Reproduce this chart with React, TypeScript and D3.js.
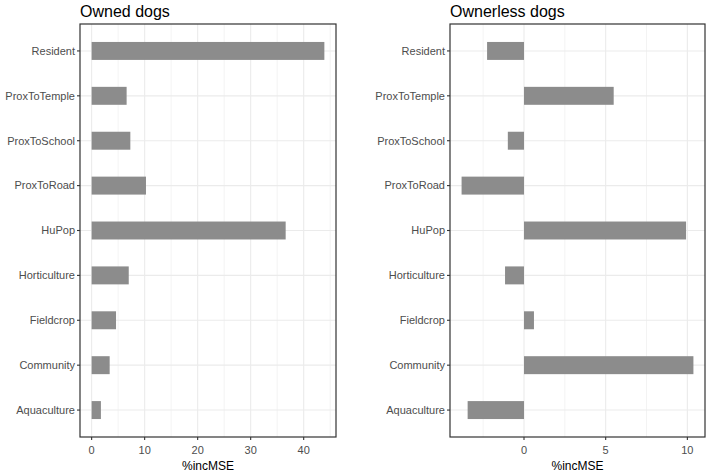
import { useEffect, useRef } from 'react';
import * as d3 from 'd3';

const categories = ['Resident', 'ProxToTemple', 'ProxToSchool', 'ProxToRoad', 'HuPop', 'Horticulture', 'Fieldcrop', 'Community', 'Aquaculture'];
const ownedValues = [43.9, 6.6, 7.3, 10.25, 36.6, 7.0, 4.6, 3.4, 1.75];
const ownerlessValues = [-2.26, 5.49, -0.99, -3.82, 9.92, -1.16, 0.61, 10.37, -3.45];
const ownedTicks = [0, 10, 20, 30, 40];
const ownerlessTicks = [0, 5, 10];
const titles = ['Owned dogs', 'Ownerless dogs'];
const xTitle = '%incMSE';

const width = 708;
const height = 474;
const font = '"Liberation Sans", Arial, sans-serif';

const App = () => {
    const svgRef = useRef(null);

    useEffect(() => {
        const svg = d3.select(svgRef.current);
        svg.selectAll('*').remove();

        const panels = [
            { left: 80, right: 336, values: ownedValues, ticks: ownedTicks, title: titles[0] },
            { left: 450, right: 705, values: ownerlessValues, ticks: ownerlessTicks, title: titles[1] },
        ];
        const top = 24;
        const bottom = 437;

        panels.forEach(p => {
            const min = Math.min(0, d3.min(p.values));
            const max = Math.max(0, d3.max(p.values));
            const pad = (max - min) * 0.05;
            const x = d3.scaleLinear().domain([min - pad, max + pad]).range([p.left, p.right]);

            // discrete axis with ggplot's 0.6 expansion
            const y = d3.scaleLinear().domain([0.4, categories.length + 0.6]).range([top, bottom]);
            const yPos = (i) => y(i + 1);
            const band = y(1) - y(0);

            const g = svg.append('g');

            // minor grid
            const majors = x.ticks(p.ticks.length > 3 ? 5 : 3);
            const step = p.ticks[1] - p.ticks[0];
            const minors = [];
            for (let v = p.ticks[0] - step / 2; v <= x.domain()[1]; v += step) {
                if (v >= x.domain()[0]) minors.push(v);
            }
            g.selectAll('.minor')
                .data(minors)
                .join('line')
                .attr('x1', d => x(d)).attr('x2', d => x(d))
                .attr('y1', top).attr('y2', bottom)
                .attr('stroke', '#ebebeb').attr('stroke-width', 0.6);

            g.selectAll('.major')
                .data(p.ticks)
                .join('line')
                .attr('x1', d => x(d)).attr('x2', d => x(d))
                .attr('y1', top).attr('y2', bottom)
                .attr('stroke', '#ebebeb').attr('stroke-width', 1.1);

            g.selectAll('.hgrid')
                .data(categories)
                .join('line')
                .attr('x1', p.left).attr('x2', p.right)
                .attr('y1', (d, i) => yPos(i)).attr('y2', (d, i) => yPos(i))
                .attr('stroke', '#ebebeb').attr('stroke-width', 1.1);

            // bars
            g.selectAll('.bar')
                .data(p.values)
                .join('rect')
                .attr('x', d => x(Math.min(0, d)))
                .attr('width', d => Math.abs(x(d) - x(0)))
                .attr('y', (d, i) => yPos(i) - band * 0.2)
                .attr('height', band * 0.4)
                .attr('fill', '#8c8c8c');

            // border
            g.append('rect')
                .attr('x', p.left).attr('y', top)
                .attr('width', p.right - p.left).attr('height', bottom - top)
                .attr('fill', 'none').attr('stroke', '#333333').attr('stroke-width', 1.2);

            // y axis ticks and labels
            categories.forEach((c, i) => {
                g.append('line')
                    .attr('x1', p.left - 3).attr('x2', p.left)
                    .attr('y1', yPos(i)).attr('y2', yPos(i))
                    .attr('stroke', '#333333').attr('stroke-width', 1.1);
                g.append('text')
                    .attr('x', p.left - 5)
                    .attr('y', yPos(i))
                    .attr('dy', '0.35em')
                    .attr('text-anchor', 'end')
                    .style('font-family', font)
                    .style('font-size', '11px')
                    .attr('fill', '#4d4d4d')
                    .text(c);
            });

            // x axis ticks and labels
            p.ticks.forEach(t => {
                g.append('line')
                    .attr('x1', x(t)).attr('x2', x(t))
                    .attr('y1', bottom).attr('y2', bottom + 3)
                    .attr('stroke', '#333333').attr('stroke-width', 1.1);
                g.append('text')
                    .attr('x', x(t))
                    .attr('y', bottom + 17)
                    .attr('text-anchor', 'middle')
                    .style('font-family', font)
                    .style('font-size', '11px')
                    .attr('fill', '#4d4d4d')
                    .text(t);
            });

            g.append('text')
                .attr('x', (p.left + p.right) / 2)
                .attr('y', bottom + 33)
                .attr('text-anchor', 'middle')
                .style('font-family', font)
                .style('font-size', '12px')
                .attr('fill', '#000')
                .text(xTitle);

            g.append('text')
                .attr('x', p.left)
                .attr('y', 17)
                .style('font-family', font)
                .style('font-size', '16px')
                .attr('fill', '#000')
                .text(p.title);
        });
    }, []);

    return (
        <svg ref={svgRef} width={width} height={height} style={{ position: 'absolute', left: 0, top: 0, background: '#fff' }}></svg>
    );
};

export default App;
